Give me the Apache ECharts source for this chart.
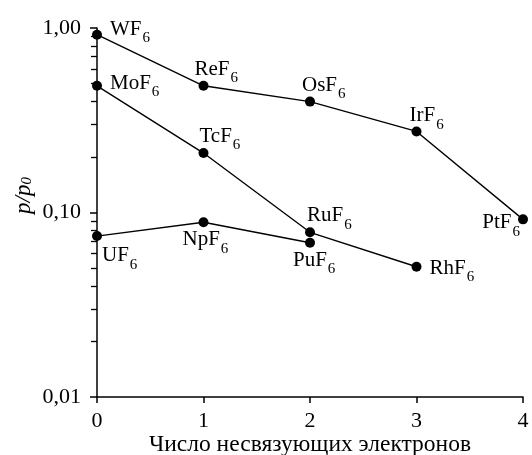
<!DOCTYPE html>
<html><head><meta charset="utf-8">
<script src="https://cdn.jsdelivr.net/npm/echarts@6/dist/echarts.min.js"></script>
<style>html,body{margin:0;padding:0;background:#fff}#c{width:532px;height:455px}</style>
</head><body><div id="c"></div>
<script>
// ---- data ----
const xTicks = [0, 1, 2, 3, 4];
const yLabelValues = [0.01, 0.1, 1];
const yMinorTicks = [0.02,0.03,0.04,0.05,0.06,0.07,0.08,0.09,0.2,0.3,0.4,0.5,0.6,0.7,0.8,0.9];
const xTitle = 'Число несвязующих электронов';

const group1Names = ['W', 'Re', 'Os', 'Ir', 'Pt'];
const group1X = [0, 1, 2, 3, 4];
const group1Values = [0.92, 0.486, 0.399, 0.275, 0.0918];

const group2Names = ['Mo', 'Tc', 'Ru', 'Rh'];
const group2X = [0, 1, 2, 3];
const group2Values = [0.486, 0.21, 0.0781, 0.0508];

const group3Names = ['U', 'Np', 'Pu'];
const group3X = [0, 1, 2];
const group3Values = [0.0745, 0.0885, 0.0686];

// ---- label placement (style) : [dx, dy, align] relative to marker centre ----
const place = {
  W: [13, -7, 'left'], Re: [-9, -18, 'left'], Os: [-8, -18, 'left'], Ir: [-7, -17, 'left'], Pt: [-3, 2, 'right'],
  Mo: [13, -4, 'left'], Tc: [-4, -18, 'left'], Ru: [-3, -18, 'left'], Rh: [13, 0, 'left'],
  U: [5, 18, 'left'], Np: [-21, 16, 'left'], Pu: [-17, 16, 'left']
};

const FONT = 'Liberation Serif';
const SYM = 10;
const rich = {
  a: { fontFamily: FONT, fontSize: 21, color: '#000', lineHeight: 22, verticalAlign: 'middle' },
  b: { fontFamily: FONT, fontSize: 15, color: '#000', height: 15, padding: [18, 0, 0, 1], verticalAlign: 'bottom' }
};

function build(names, xs, vals) {
  return names.map((n, i) => {
    const p = place[n];
    return {
      value: [xs[i], vals[i]],
      label: {
        show: true,
        formatter: '{a|' + n + 'F}{b|6}',
        position: [SYM / 2 + p[0], SYM / 2 + p[1] + 1.5],
        align: p[2],
        verticalAlign: 'middle',
        rich: rich
      }
    };
  });
}

function mkSeries(names, xs, vals) {
  return {
    type: 'line',
    data: build(names, xs, vals),
    symbol: 'circle',
    symbolSize: SYM,
    clip: false,
    lineStyle: { color: '#000', width: 1.4 },
    itemStyle: { color: '#000' },
    emphasis: { disabled: true },
    silent: true,
    animation: false,
    z: 5
  };
}

const chart = echarts.init(document.getElementById('c'));
chart.setOption({
  animation: false,
  backgroundColor: '#fff',
  grid: { left: 97, right: 9, top: 28, bottom: 58, containLabel: false, outerBoundsMode: 'none' },
  xAxis: {
    type: 'value', min: xTicks[0], max: xTicks[xTicks.length - 1], interval: 1,
    name: xTitle, nameLocation: 'middle', nameGap: 36, nameMoveOverlap: false,
    nameTextStyle: { fontFamily: FONT, fontSize: 23.5, color: '#000' },
    axisLine: { onZero: false, lineStyle: { color: '#000', width: 1.5 } },
    axisTick: { show: true, inside: false, length: 6, lineStyle: { color: '#000', width: 1.5 } },
    axisLabel: { fontFamily: FONT, fontSize: 22, color: '#000', margin: 13 },
    splitLine: { show: false }
  },
  yAxis: [{
    type: 'log', logBase: 10, min: 0.01, max: 1,
    axisLine: { show: true, onZero: false, lineStyle: { color: '#000', width: 1.5 } },
    axisTick: { show: true, inside: false, length: 7, lineStyle: { color: '#000', width: 1.5 } },
    axisLabel: {
      fontFamily: FONT, fontSize: 22, color: '#000', margin: 16,
      formatter: v => yLabelValues.some(t => Math.abs(t - v) < 1e-9) ? v.toFixed(2).replace('.', ',') : ''
    },
    splitLine: { show: false }
  }, {
    type: 'value', min: -2, max: 0, position: 'left',
    axisLine: { show: false, onZero: false },
    axisTick: { show: true, inside: false, length: 6, customValues: yMinorTicks.map(v => Math.log10(v)), lineStyle: { color: '#000', width: 1.3 } },
    axisLabel: { show: false },
    splitLine: { show: false }
  }],
  graphic: [{
    type: 'text', left: 11, top: 177,
    rotation: Math.PI / 2,
    style: {
      text: '{i|p/p}{s|0}',
      rich: {
        i: { fontFamily: FONT, fontStyle: 'italic', fontSize: 23, fill: '#000', lineHeight: 23 },
        s: { fontFamily: FONT, fontStyle: 'italic', fontSize: 15, fill: '#000', lineHeight: 15, padding: [9, 0, 0, 0], verticalAlign: 'bottom' }
      }
    }
  }],
  series: [
    mkSeries(group1Names, group1X, group1Values),
    mkSeries(group2Names, group2X, group2Values),
    mkSeries(group3Names, group3X, group3Values)
  ]
});
</script></body></html>
